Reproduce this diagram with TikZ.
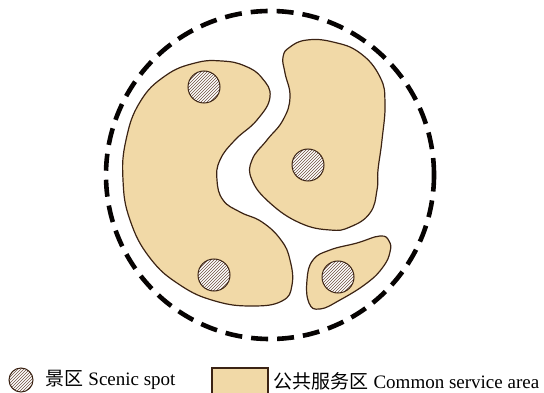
\documentclass[tikz,border=0pt]{standalone}
\usepackage{fontspec}
\setmainfont{Liberation Serif}
\newfontfamily\cjk{Noto Sans CJK SC}
\usetikzlibrary{patterns,positioning}
\definecolor{outline}{HTML}{3B2314}
\definecolor{service}{HTML}{F1D9A7}
\definecolor{hatch}{HTML}{6E5040}

\begin{document}
\begin{tikzpicture}[
  x=1pt, y=-1pt,
  font=\fontsize{19}{22}\selectfont,
  area/.style={draw=outline, line width=1.2pt, fill=service},
  spot/.style={circle, draw=outline, line width=1pt, minimum size=32pt, inner sep=0pt,
               preaction={fill=white}, pattern=north east lines, pattern color=hatch},
  boundary/.style={draw=black!90!outline, line width=4.6pt, dash pattern=on 17pt off 9pt},
  keytext/.style={anchor=west, inner sep=0pt}
]
  \useasboundingbox (0,0) rectangle (544,393);

  % planning boundary
  \draw[boundary] (270,175) circle[radius=164pt];

  % common service areas
  \draw[area] plot[smooth cycle, tension=0.75] coordinates {
    (270,97) (262,78) (245,66) (222,61) (195,63) (165,76) (140,102) (126,140)
    (123,180) (130,220) (150,258) (180,285) (215,301) (252,306) (282,301) (292,285)
    (290,260) (281,240) (262,222) (240,212) (223,200) (217,180) (220,160) (235,140)
    (257,120)};
  \draw[area] plot[smooth cycle, tension=0.75] coordinates {
    (283,57) (290,47) (307,40) (333,42) (360,53) (380,77) (385,103) (382,140)
    (378,170) (377,190) (370,213) (350,227) (330,230) (300,223) (270,203) (252,180)
    (252,160) (267,140) (283,120) (290,97) (285,73)};
  \draw[area] plot[smooth cycle, tension=0.75] coordinates {
    (307,280) (313,260) (330,250) (357,243) (380,236) (389,241) (390,252) (383,267)
    (367,283) (340,300) (320,309) (309,303)};

  % scenic spots
  \node[spot] (spotA) at (204,87) {};
  \node[spot] (spotB) at (308,165) {};
  \node[spot] (spotC) at (214,275) {};
  \node[spot] (spotD) at (338,277) {};

  % legend
  \node[spot, minimum size=24pt] (scenicKey) at (21,380) {};
  \node[keytext, right=12pt of scenicKey] (scenicText) {{\cjk 景区} Scenic spot};
  \node[area, minimum width=56pt, minimum height=27pt, inner sep=0pt] (serviceKey) at (240,381.5) {};
  \node[keytext, right=5pt of serviceKey] (serviceText) {{\cjk 公共服务区} Common service area};
\end{tikzpicture}
\end{document}
